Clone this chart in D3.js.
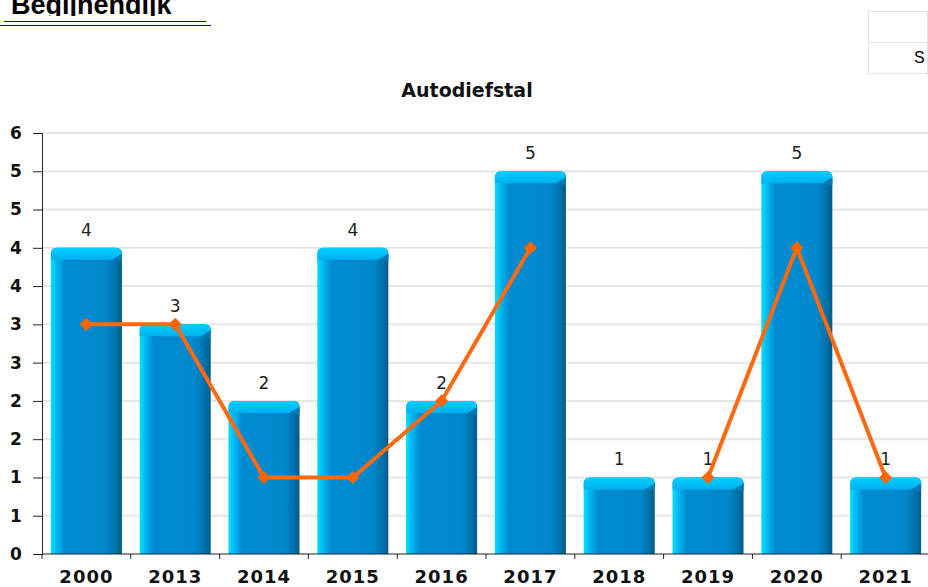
<!DOCTYPE html>
<html>
<head>
<meta charset="utf-8">
<script src="https://cdn.jsdelivr.net/npm/d3@7"></script>
<style>
  body { margin: 0; background: #fff; overflow: hidden; }
  .place {
    position: absolute; left: 11px; top: 0; height: 16px; width: 195px; overflow: hidden;
    font: bold 27px "Liberation Sans", Arial, sans-serif; color: #000;
  }
  .place span { position: absolute; left: 0; top: -10px; line-height: 30px; }
  .rule1 { position: absolute; left: 4px; top: 21px; width: 202px; border-top: 1px solid #0000c0; }
  .rule2 { position: absolute; left: 0; top: 25px; width: 211px; border-top: 1px solid #0000c0; }
  table.side {
    position: absolute; left: 868px; top: 11px; border-collapse: collapse;
    font: 16px "Liberation Sans", Arial, sans-serif;
  }
  table.side td { border: 1px solid #e2e2e2; width: 80px; height: 30px; padding: 0 0 0 45px; }
  svg { position: absolute; left: 0; top: 0; }
  .axis text { font-family: "DejaVu Sans", sans-serif; font-weight: bold; fill: #111; }
  .y-axis text { font-size: 17px; }
  .x-axis text { font-size: 18px; letter-spacing: 1px; }
  .axis path, .axis line { stroke: #222; }
</style>
</head>
<body>
<div class="place"><span>Begijnendijk</span></div>
<div class="rule1"></div>
<div class="rule2"></div>
<table class="side"><tr><td></td></tr><tr><td>S</td></tr></table>
<svg id="chart" width="928" height="587"></svg>
<script>
const years = ['2000', '2013', '2014', '2015', '2016', '2017', '2018', '2019', '2020', '2021'];
const counts = [4, 3, 2, 4, 2, 5, 1, 1, 5, 1];
const trend = [3, 3, 1, 1, 2, 4, null, 1, 4, 1];
const yTicks = [0, 0.5, 1, 1.5, 2, 2.5, 3, 3.5, 4, 4.5, 5, 5.5];
const chartTitle = 'Autodiefstal';

const plot = { left: 42, right: 930, top: 133, bottom: 554 };

const svg = d3.select('#chart');

const x = d3.scaleBand(years, [plot.left, plot.right])
  .paddingInner(0.2)
  .paddingOuter(0.1);
const y = d3.scaleLinear([0, 5.5], [plot.bottom, plot.top]);

const defs = svg.append('defs');
const sideGrad = defs.append('linearGradient').attr('id', 'barSide');
[[0, '#00e0ff'], [0.1, '#00b0ee'], [0.2, '#008bd0'], [0.78, '#0088cc'], [0.9, '#0075b0'], [1, '#005c88']]
  .forEach(([o, c]) => sideGrad.append('stop').attr('offset', o).attr('stop-color', c));
const topGrad = defs.append('linearGradient').attr('id', 'barTop').attr('x2', 0).attr('y2', 1);
[[0, '#00d0ff'], [1, '#00b0f0']]
  .forEach(([o, c]) => topGrad.append('stop').attr('offset', o).attr('stop-color', c));

// gridlines
svg.append('g')
  .selectAll('line')
  .data(yTicks.slice(1))
  .join('line')
  .attr('x1', plot.left).attr('x2', 928)
  .attr('y1', d => y(d)).attr('y2', d => y(d))
  .attr('stroke', '#e6e6e6').attr('stroke-width', 2);

// bars
const bw = x.bandwidth();
const barData = years.map((yr, i) => ({ yr, v: counts[i] }));
const bars = svg.append('g').selectAll('g')
  .data(barData)
  .join('g')
  .attr('transform', d => `translate(${x(d.yr)},${y(d.v)})`);

bars.append('path')
  .attr('d', d => `M0,${plot.bottom - y(d.v)} L0,6 Q0,0 6,0 L${bw - 6},0 Q${bw},0 ${bw},6 L${bw},${plot.bottom - y(d.v)} Z`)
  .attr('fill', 'url(#barSide)');

bars.append('path')
  .attr('d', `M0,12 L0,6 Q0,0 6,0 L${bw - 6},0 Q${bw},0 ${bw},6 L${bw},12 L${bw - 10},12 L10,12 Z`)
  .attr('fill', 'url(#barTop)');
bars.append('path')
  .attr('d', `M${bw},6 L${bw},14 L${bw - 10},12 Z`)
  .attr('fill', '#0078b4');

// value labels
svg.append('g')
  .selectAll('text')
  .data(barData)
  .join('text')
  .attr('x', d => x(d.yr) + bw / 2)
  .attr('y', d => y(d.v) - 12)
  .attr('text-anchor', 'middle')
  .attr('font-family', '"DejaVu Sans", sans-serif')
  .attr('font-size', 17)
  .attr('fill', '#222')
  .text(d => d.v);

// axes
svg.append('g')
  .attr('class', 'axis y-axis')
  .attr('transform', `translate(${plot.left},0)`)
  .call(d3.axisLeft(y).tickValues(yTicks).tickFormat(d => Math.round(d + 1e-9)).tickSize(9).tickPadding(14))
  .call(g => g.selectAll('.tick text').attr('text-anchor', 'start').attr('x', -32));

svg.append('g')
  .attr('class', 'axis x-axis')
  .attr('transform', `translate(0,${plot.bottom})`)
  .call(d3.axisBottom(x).tickSize(0).tickPadding(16))
  .call(g => g.select('.domain').attr('d', `M${plot.left},0H928`));

svg.append('g')
  .selectAll('line')
  .data(years)
  .join('line')
  .attr('x1', d => x(d) - x.step() * x.paddingInner() / 2)
  .attr('x2', d => x(d) - x.step() * x.paddingInner() / 2)
  .attr('y1', plot.bottom).attr('y2', plot.bottom + 5)
  .attr('stroke', '#222');

// trend line
const pts = years.map((yr, i) => ({ yr, v: trend[i] }));
const line = d3.line()
  .defined(d => d.v !== null)
  .x(d => x(d.yr) + bw / 2)
  .y(d => y(d.v));

svg.append('path')
  .datum(pts)
  .attr('d', line)
  .attr('fill', 'none')
  .attr('stroke', '#ff6a10')
  .attr('stroke-width', 4);

svg.append('g')
  .selectAll('path')
  .data(pts.filter(d => d.v !== null))
  .join('path')
  .attr('transform', d => `translate(${x(d.yr) + bw / 2},${y(d.v)})`)
  .attr('d', d3.symbol(d3.symbolDiamond2, 110))
  .attr('fill', '#ff6600');

svg.append('text')
  .attr('x', 467)
  .attr('y', 97)
  .attr('text-anchor', 'middle')
  .attr('font-family', '"DejaVu Sans", sans-serif')
  .attr('font-weight', 'bold')
  .attr('font-size', 19)
  .attr('fill', '#111')
  .text(chartTitle);
</script>
</body>
</html>
